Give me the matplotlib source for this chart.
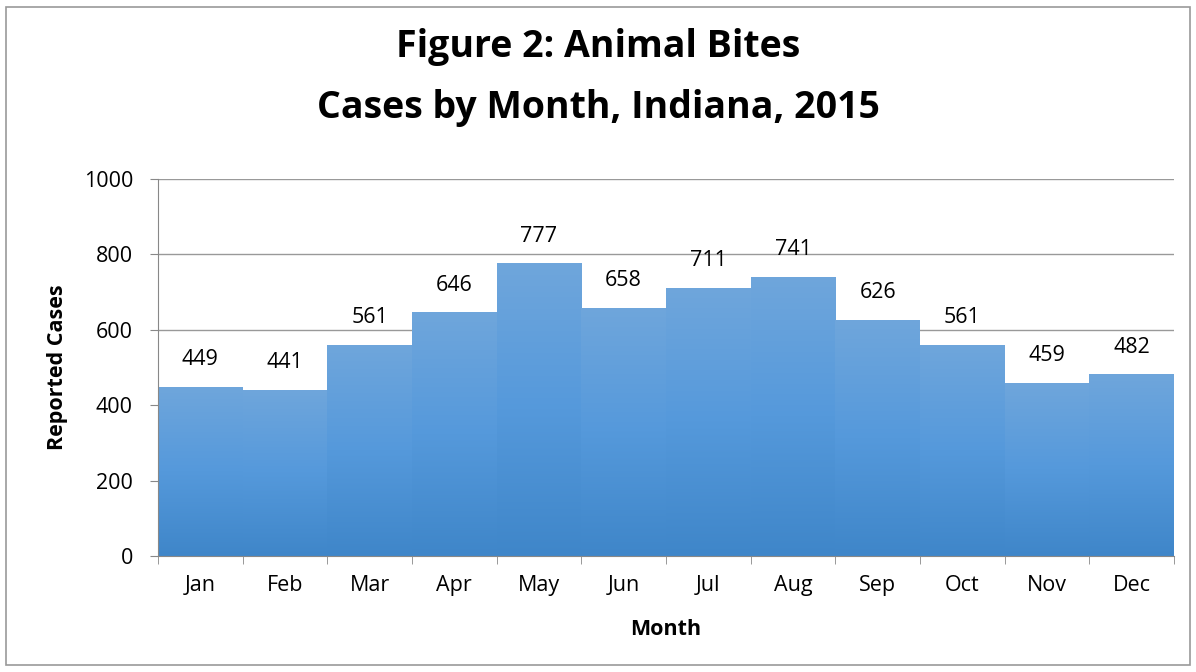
import numpy as np
import matplotlib
matplotlib.use("Agg")
import matplotlib.pyplot as plt
from matplotlib.patches import Rectangle
from matplotlib.colors import LinearSegmentedColormap

months = ["Jan", "Feb", "Mar", "Apr", "May", "Jun", "Jul", "Aug", "Sep", "Oct", "Nov", "Dec"]
cases = [449, 441, 561, 646, 777, 658, 711, 741, 626, 561, 459, 482]
yticks = [0, 200, 400, 600, 800, 1000]

plt.rcParams['font.family'] = ['Open Sans', 'DejaVu Sans']

fig = plt.figure(figsize=(11.96, 6.72), dpi=100)
ax = fig.add_axes([0.1321, 0.1726, 0.8495, 0.561])

cmap = LinearSegmentedColormap.from_list("g", ["#3f86c9", "#5599db", "#6fa6dc"])
grad = np.linspace(0, 1, 256).reshape(-1, 1)

x = np.arange(len(months))
for i, v in enumerate(cases):
    rect = Rectangle((i - 0.5, 0), 1.0, v, facecolor="none", edgecolor="none")
    ax.add_patch(rect)
    im = ax.imshow(grad, cmap=cmap, aspect="auto", origin="lower",
                   extent=(i - 0.5, i + 0.5, 0, v), zorder=2)
    im.set_clip_path(rect)
    ax.annotate(str(v), xy=(i, v), xytext=(0, 19.5), textcoords="offset points",
                ha="center", va="center", fontsize=15.5, color="#000000", zorder=4)

ax.set_xlim(-0.5, len(months) - 0.5)
ax.set_ylim(0, 1000)
ax.set_yticks(yticks)
ax.set_yticklabels([str(t) for t in yticks], fontsize=15.5)
ax.set_xticks(x)
ax.set_xticklabels(months, fontsize=15.5)
ax.set_xticks(np.arange(-0.5, len(months), 1), minor=True)
ax.tick_params(axis="x", which="major", length=0, pad=14)
ax.tick_params(axis="x", which="minor", length=6, color="#888888")
ax.tick_params(axis="y", length=6, color="#888888", pad=12)
ax.yaxis.grid(True, color="#999999", linewidth=1)
ax.set_axisbelow(True)
for s in ["top", "right"]:
    ax.spines[s].set_visible(False)
for s in ["left", "bottom"]:
    ax.spines[s].set_color("#888888")
    ax.spines[s].set_zorder(5)

ax.set_xlabel("Month", fontsize=15.5, fontweight="bold", va="center")
ax.xaxis.set_label_coords(0.5, -0.196)
ax.set_ylabel("Reported Cases", fontsize=15.5, fontweight="bold", va="center")
ax.yaxis.set_label_coords(-0.099, 0.5)

fig.text(0.5, 0.93, "Figure 2: Animal Bites", ha="center", va="center",
         fontsize=27, fontweight="bold")
fig.text(0.5, 0.84, "Cases by Month, Indiana, 2015", ha="center", va="center",
         fontsize=27, fontweight="bold")

border = Rectangle((0.005, 0.01), 0.99, 0.98, transform=fig.transFigure,
                   fill=False, edgecolor="#999999", linewidth=1.2)
fig.patches.append(border)

fig.savefig("out.png", dpi=100)
